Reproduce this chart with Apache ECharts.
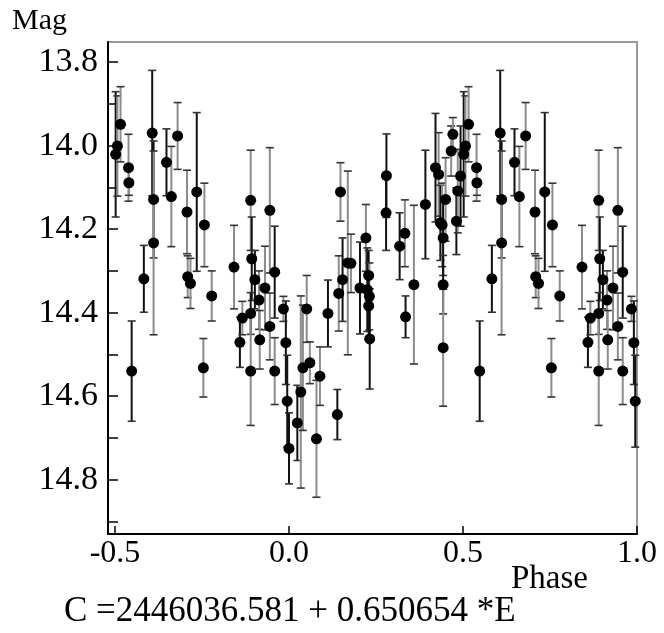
<!DOCTYPE html>
<html>
<head>
<meta charset="utf-8">
<script src="https://cdn.jsdelivr.net/npm/echarts@6/dist/echarts.min.js"></script>
<style>
  html, body { margin: 0; background: #fff; }
  #main { width: 664px; height: 633px; }
</style>
</head>
<body>
<div id="main"></div>
<script>
// observations folded on the period, phase in [0, 1)
var phase = [
  0.000, 0.024, 0.034, 0.040, 0.051, 0.060, 0.079, 0.089, 0.112, 0.139,
  0.143, 0.148, 0.154, 0.169, 0.178, 0.204, 0.221, 0.225, 0.229, 0.231,
  0.229, 0.232, 0.279, 0.280, 0.318, 0.333, 0.335, 0.359, 0.392, 0.421,
  0.430, 0.435, 0.440, 0.443, 0.450, 0.443, 0.443, 0.466, 0.471, 0.481,
  0.485, 0.493, 0.502, 0.507, 0.516, 0.539, 0.540, 0.548, 0.583, 0.607,
  0.611, 0.611, 0.648, 0.662, 0.680, 0.707, 0.709, 0.717, 0.735, 0.757,
  0.754, 0.778, 0.842, 0.859, 0.866, 0.890, 0.893, 0.890, 0.890, 0.902,
  0.914, 0.916, 0.931, 0.945, 0.945, 0.959, 0.959, 0.984, 0.991, 0.995
];
var mag = [
  14.725, 14.664, 14.590, 14.532, 14.391, 14.520, 14.702, 14.552, 14.402, 14.644,
  14.354, 14.111, 14.321, 14.281, 14.282, 14.341, 14.221, 14.345, 14.311, 14.361,
  14.384, 14.463, 14.161, 14.072, 14.241, 14.210, 14.410, 14.333, 14.141, 14.053,
  14.069, 14.185, 14.190, 14.221, 14.129, 14.333, 14.484, 14.013, 13.973, 14.181,
  14.109, 14.073, 14.021, 14.001, 13.949, 14.053, 14.089, 14.540, 14.319, 13.970,
  14.129, 14.233, 14.040, 14.122, 13.977, 14.159, 14.314, 14.330, 14.111, 14.190,
  14.532, 14.360, 14.291, 14.471, 14.413, 14.131, 14.271, 14.402, 14.540, 14.321,
  14.370, 14.465, 14.341, 14.155, 14.433, 14.303, 14.540, 14.391, 14.472, 14.612
];
var err = [
  0.085, 0.09, 0.23, 0.15, 0.08, 0.05, 0.14, 0.07, 0.08, 0.06,
  0.09, 0.07, 0.10, 0.22, 0.07, 0.11, 0.08, 0.10, 0.06, 0.08,
  0.08, 0.12, 0.09, 0.10, 0.08, 0.08, 0.05, 0.19, 0.13, 0.13,
  0.10, 0.09, 0.10, 0.09, 0.10, 0.07, 0.14, 0.06, 0.04, 0.08,
  0.10, 0.12, 0.15, 0.12, 0.09, 0.08, 0.03, 0.12, 0.08, 0.15,
  0.14, 0.22, 0.08, 0.12, 0.08, 0.10, 0.05, 0.06, 0.19, 0.10,
  0.07, 0.06, 0.10, 0.06, 0.04, 0.12, 0.10, 0.05, 0.13, 0.07,
  0.07, 0.07, 0.10, 0.15, 0.08, 0.11, 0.08, 0.03, 0.10, 0.11
];
// 1 = black error bar, 0 = grey error bar
var dark = [
  1, 1, 0, 0, 0, 0, 0, 0, 1, 1,
  0, 0, 1, 0, 0, 1, 0, 1, 1, 0,
  1, 1, 1, 1, 1, 0, 1, 0, 1, 1,
  0, 1, 0, 1, 0, 1, 0, 0, 0, 1,
  0, 1, 1, 0, 0, 0, 0, 1, 1, 1,
  1, 0, 1, 0, 0, 0, 0, 0, 1, 0,
  0, 0, 0, 1, 0, 0, 1, 1, 0, 1,
  0, 0, 0, 0, 0, 1, 0, 0, 1, 1
];

var xTicks = [-0.5, 0.0, 0.5, 1.0];
var yTicks = [13.8, 13.9, 14.0, 14.1, 14.2, 14.3, 14.4, 14.5, 14.6, 14.7, 14.8, 14.9];
var yLabels = [13.8, 14.0, 14.2, 14.4, 14.6, 14.8];

var serif = "'Liberation Serif', 'DejaVu Serif', serif";

// phases from 0.5 on are shown a second time one cycle earlier
var points = [];
for (var i = 0; i < phase.length; i++) {
  points.push([phase[i], mag[i], err[i], dark[i]]);
  if (phase[i] >= 0.5) {
    points.push([phase[i] - 1, mag[i], err[i], dark[i]]);
  }
}

function renderErrorBar(params, api) {
  var x = api.value(0);
  var y = api.value(1);
  var e = api.value(2);
  var top = api.coord([x, y - e]);
  var bot = api.coord([x, y + e]);
  var hw = 4;
  var barColor = api.value(3) ? '#111' : '#8c8c8c';
  var capStyle = { stroke: '#333', lineWidth: 1.6 };
  return {
    type: 'group',
    children: [
      { type: 'line', shape: { x1: top[0], y1: top[1], x2: bot[0], y2: bot[1] },
        style: { stroke: barColor, lineWidth: 2 } },
      { type: 'line', shape: { x1: top[0] - hw, y1: top[1], x2: top[0] + hw, y2: top[1] },
        style: capStyle },
      { type: 'line', shape: { x1: bot[0] - hw, y1: bot[1], x2: bot[0] + hw, y2: bot[1] },
        style: capStyle }
    ]
  };
}

var chart = echarts.init(document.getElementById('main'));

var option = {
  backgroundColor: '#fff',
  animation: false,
  grid: {
    left: 108,
    right: 27,
    top: 42,
    bottom: 99,
    show: true,
    borderColor: '#999',
    borderWidth: 2,
    outerBoundsMode: 'none'
  },
  xAxis: {
    type: 'value',
    min: -0.52,
    max: 1.0,
    splitLine: { show: false },
    axisLine: { onZero: false, lineStyle: { color: '#000', width: 2 } },
    axisTick: {
      inside: true,
      length: 8,
      customValues: xTicks,
      lineStyle: { color: '#000', width: 1.5 }
    },
    axisLabel: {
      customValues: xTicks,
      margin: 4,
      color: '#000',
      fontFamily: serif,
      fontSize: 32,
      formatter: function (v) { return v.toFixed(1); }
    }
  },
  yAxis: {
    type: 'value',
    inverse: true,
    min: 13.752,
    max: 14.93,
    splitLine: { show: false },
    axisLine: { onZero: false, lineStyle: { color: '#000', width: 2 } },
    axisTick: {
      inside: true,
      length: 10,
      customValues: yTicks,
      lineStyle: { color: '#000', width: 1.5 }
    },
    axisLabel: {
      customValues: yLabels,
      margin: 10,
      color: '#000',
      fontFamily: serif,
      fontSize: 34,
      formatter: function (v) { return v.toFixed(1); }
    }
  },
  graphic: [
    { type: 'text', left: 12, top: 6,
      style: { text: 'Mag', font: '30px ' + serif, fill: '#000' } },
    { type: 'text', left: 511, top: 563,
      style: { text: 'Phase', font: '33px ' + serif, fill: '#000' } },
    { type: 'text', left: 64, top: 594,
      style: { text: 'C =2446036.581 + 0.650654 *E', font: '35px ' + serif, fill: '#000' } }
  ],
  series: [
    {
      type: 'custom',
      renderItem: renderErrorBar,
      encode: { x: 0, y: 1 },
      data: points,
      z: 2
    },
    {
      type: 'scatter',
      symbol: 'circle',
      symbolSize: 11,
      itemStyle: { color: '#000', opacity: 1 },
      data: points.map(function (p) { return [p[0], p[1]]; }),
      z: 3
    }
  ]
};

chart.setOption(option);
</script>
</body>
</html>
